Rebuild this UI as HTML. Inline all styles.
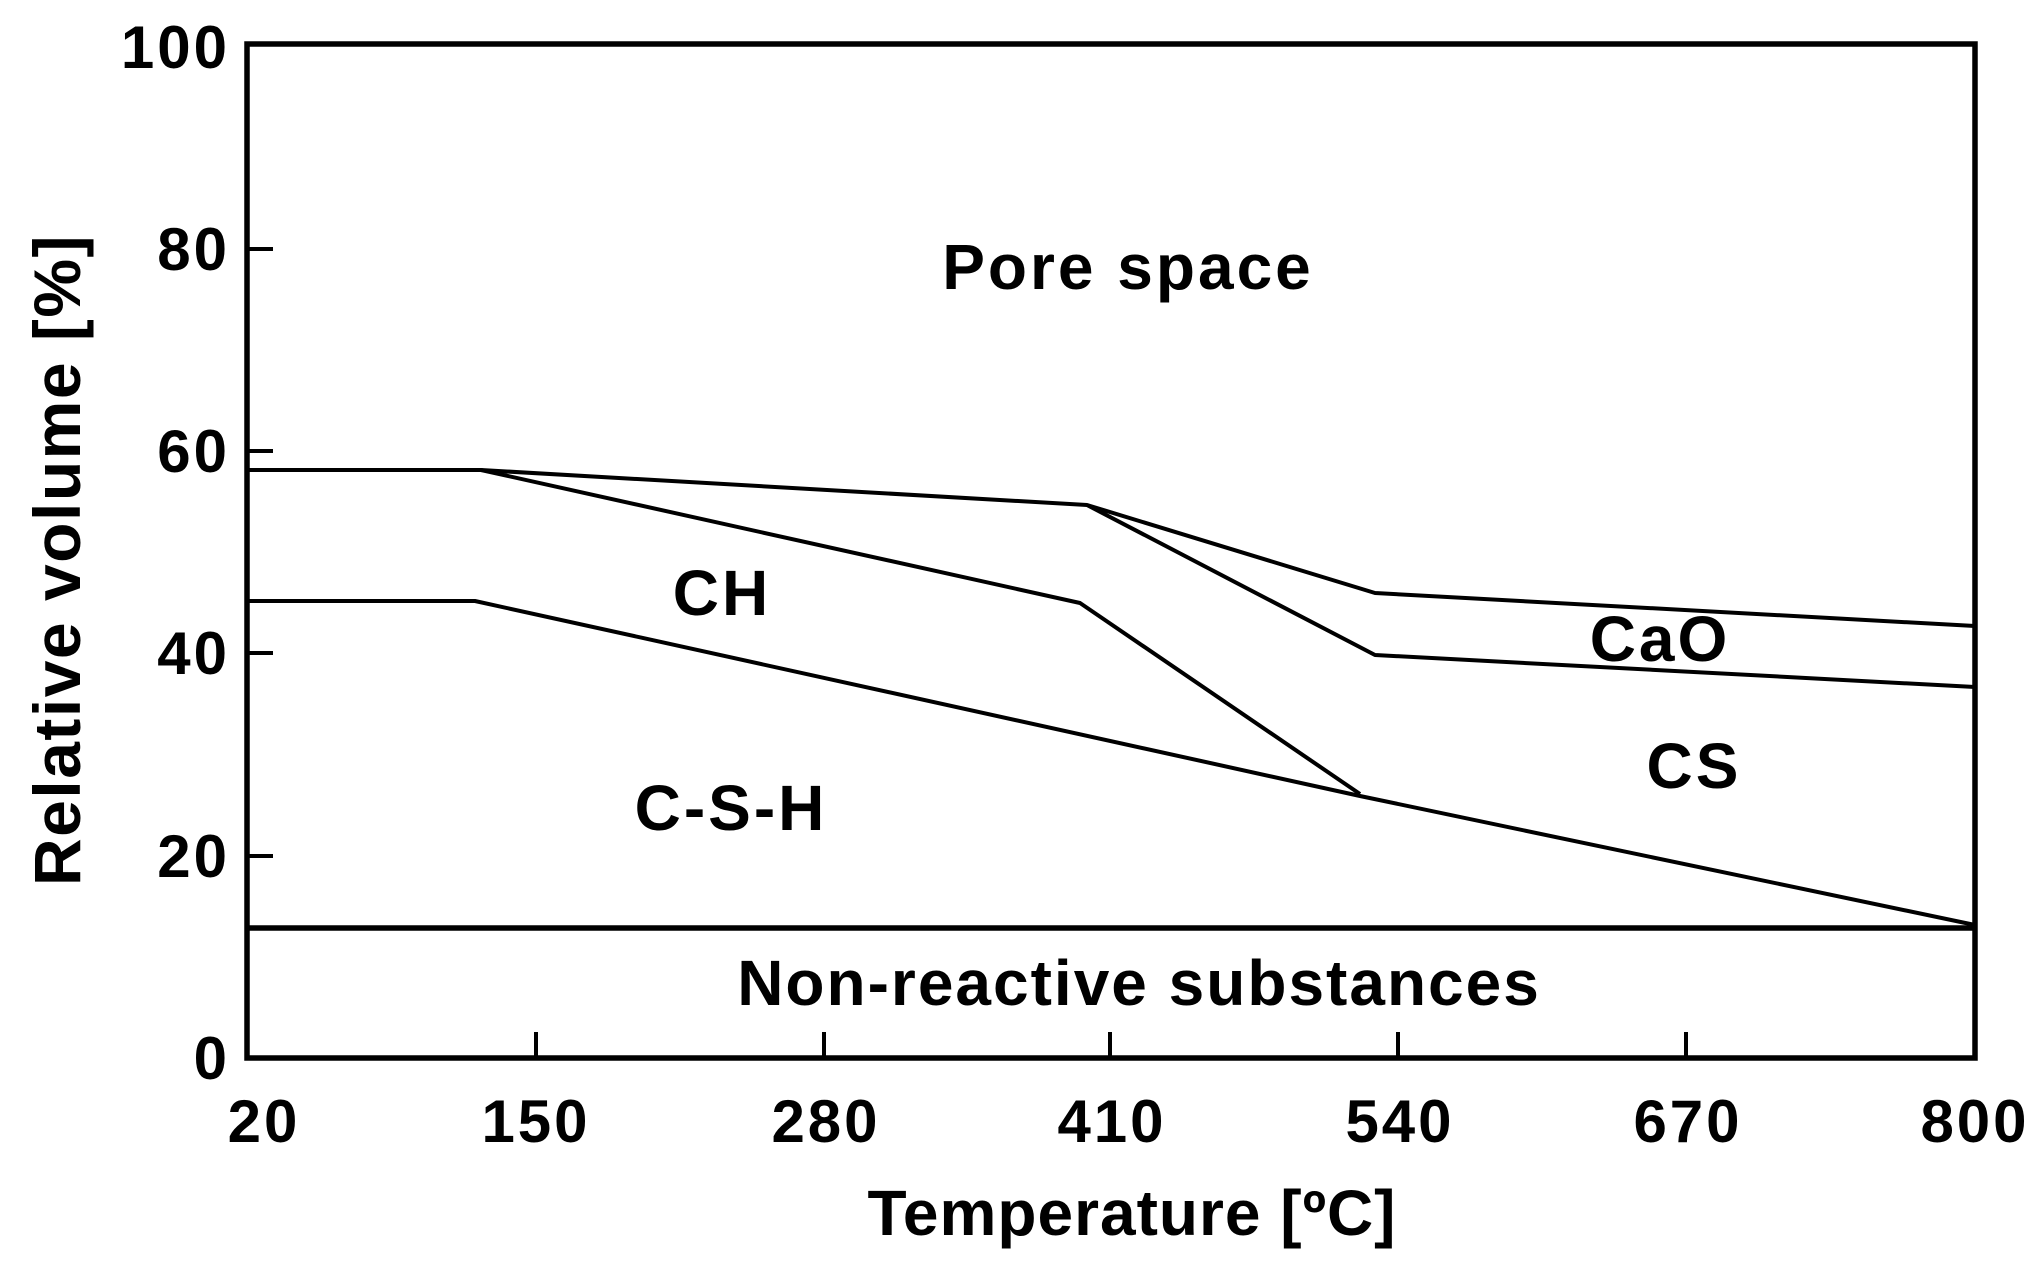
<!DOCTYPE html>
<html><head><style>html,body{margin:0;padding:0;background:#fff}</style></head><body>
<svg width="2030" height="1275" viewBox="0 0 2030 1275" xmlns="http://www.w3.org/2000/svg" font-family="Liberation Sans, Arial, sans-serif" font-weight="bold" fill="#000">
<g fill="none" stroke="#000" stroke-width="4" stroke-linejoin="round">
<polyline points="247,470 481,470 1087,505 1375,593 1975,626"/>
<polyline points="1087,505 1375,655 1975,687"/>
<polyline points="481,470 1080,603 1360,794"/>
<polyline points="247,601 475,601 1360,796 1975,925"/>
<line x1="247" y1="928" x2="1975" y2="928" stroke-width="5.5"/>
</g>
<g stroke="#000" stroke-width="4">
<line x1="247" y1="249" x2="273" y2="249"/>
<line x1="247" y1="451" x2="273" y2="451"/>
<line x1="247" y1="653" x2="273" y2="653"/>
<line x1="247" y1="856" x2="273" y2="856"/>
<line x1="536" y1="1058" x2="536" y2="1032"/>
<line x1="824" y1="1058" x2="824" y2="1032"/>
<line x1="1110" y1="1058" x2="1110" y2="1032"/>
<line x1="1398" y1="1058" x2="1398" y2="1032"/>
<line x1="1686" y1="1058" x2="1686" y2="1032"/>
</g>
<rect x="247" y="44" width="1728" height="1014" fill="none" stroke="#000" stroke-width="5.5"/>
<g font-size="60" text-anchor="end" letter-spacing="3">
<text x="230" y="68">100</text>
<text x="230" y="270">80</text>
<text x="230" y="472">60</text>
<text x="230" y="674">40</text>
<text x="230" y="877">20</text>
<text x="230" y="1079">0</text>
</g>
<g font-size="60" text-anchor="middle" letter-spacing="3">
<text x="264" y="1142">20</text>
<text x="536" y="1142">150</text>
<text x="826" y="1142">280</text>
<text x="1112" y="1142">410</text>
<text x="1400" y="1142">540</text>
<text x="1688" y="1142">670</text>
<text x="1975" y="1142">800</text>
</g>
<text x="1132" y="1235" font-size="64" text-anchor="middle" letter-spacing="1">Temperature [ºC]</text>
<text transform="translate(80,560) rotate(-90)" font-size="66" text-anchor="middle" letter-spacing="1.5">Relative volume [%]</text>
<g font-size="64" text-anchor="middle" letter-spacing="3">
<text x="1128" y="289">Pore space</text>
<text x="722" y="615">CH</text>
<text x="1660" y="661">CaO</text>
<text x="1694" y="788">CS</text>
<text x="731" y="830">C-S-H</text>
<text x="1139" y="1005" letter-spacing="2">Non-reactive substances</text>
</g>
</svg>
</body></html>
